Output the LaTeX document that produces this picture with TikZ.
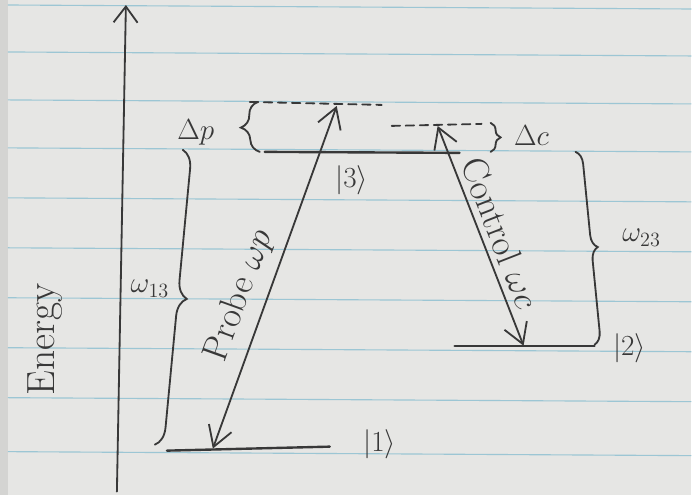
\documentclass[tikz,border=0pt]{standalone}
\usepackage{amsmath}
\usetikzlibrary{arrows.meta,decorations.pathreplacing}
\definecolor{pencil}{HTML}{383838}
\definecolor{paper}{HTML}{E6E6E4}
\definecolor{ruling}{HTML}{9CC6D4}

\begin{document}
\begin{tikzpicture}[
  x=0.025cm, y=-0.025cm,
  pencil/.style={draw=pencil, line width=1.3pt, line cap=round},
  level/.style={pencil, line width=1.7pt},
  virt/.style={pencil, dash pattern=on 6pt off 4pt},
  trans/.style={pencil, {Straight Barb[length=5mm,width=6mm]}-{Straight Barb[length=5mm,width=6mm]}},
  curly/.style={pencil, decorate, decoration={brace, amplitude=#1}},
  lab/.style={text=pencil, font=\huge, inner sep=1pt}
]
% paper
\fill[paper] (0,0) rectangle (692,495);
\fill[paper!92!black] (0,0) rectangle (8,495);
\foreach \y in {5,52,100,148,198,248,298,348,398,452}
  \draw[ruling, line width=0.8pt] (8,\y) -- (692,\y+4);
\useasboundingbox (0,0) rectangle (692,495);

% energy axis
\coordinate (ebot) at (117,492);
\coordinate (etop) at (126,5);
\draw[pencil, -{Straight Barb[length=4mm,width=6mm]}] (ebot) -- (etop);
\node[lab, rotate=90, font=\fontsize{28}{30}\selectfont] (energy) at (45,340) {Energy};

% levels
\coordinate (l3a) at (265,152); \coordinate (l3b) at (460,153);
\coordinate (l2a) at (455,346); \coordinate (l2b) at (595,346);
\coordinate (l1a) at (167,451); \coordinate (l1b) at (330,447);
\coordinate (vpa) at (250,102); \coordinate (vpb) at (382,105);
\coordinate (vca) at (392,126); \coordinate (vcb) at (482,124);
\draw[level] (l3a) -- (l3b);
\draw[level] (l2a) -- (l2b);
\draw[level] (l1a) -- (l1b);
\draw[virt] (vpa) -- (vpb);
\draw[virt] (vca) -- (vcb);
\node[lab] (ket3) at (352,180) {$|3\rangle$};
\node[lab] (ket2) at (630,348) {$|2\rangle$};
\node[lab] (ket1) at (380,445) {$|1\rangle$};

% transitions
\coordinate (p1) at (213,449);
\coordinate (p3) at (337,106);
\coordinate (c3) at (438,126);
\coordinate (c2) at (524,346);
\draw[trans] (p1) -- node[lab, sloped, above=6pt, pos=0.42, font=\fontsize{26}{28}\selectfont] (probe) {Probe $\omega p$} (p3);
\draw[trans] (c3) -- node[lab, sloped, above=3pt, pos=0.52, font=\fontsize{26}{28}\selectfont] (control) {Control $\omega c$} (c2);

% detunings and splittings
\draw[curly=0.45cm] (260,152) -- (258,102);
\node[lab] (dp) at (196,132) {$\Delta p$};
\draw[curly=0.25cm] (491,123) -- (491,152);
\node[lab] (dc) at (532,136) {$\Delta c$};
\draw[curly=0.32cm] (576,152) -- (595,345);
\node[lab] (w23) at (642,238) {$\omega_{23}$};
\draw[curly=0.45cm] (183,150) -- (155,445);
\node[lab] (w13) at (150,289) {$\omega_{13}$};
\end{tikzpicture}
\end{document}
